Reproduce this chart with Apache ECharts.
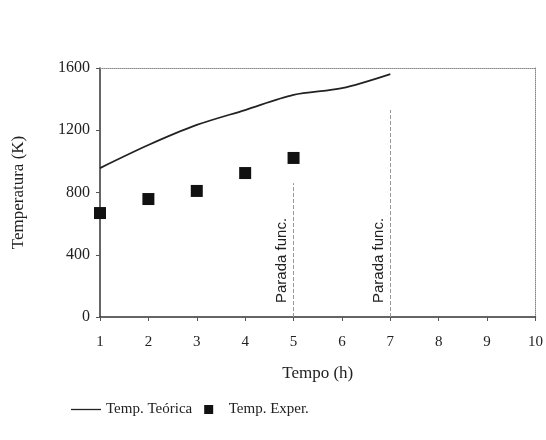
<!DOCTYPE html>
<html>
<head>
<meta charset="utf-8">
<script src="https://cdn.jsdelivr.net/npm/echarts@6/dist/echarts.min.js"></script>
<style>
  html, body { margin: 0; padding: 0; background: #fff; }
  #chart { width: 546px; height: 440px; }
</style>
</head>
<body>
<div id="chart"></div>
<script>
// dados
const hours = [1, 2, 3, 4, 5, 6, 7];
const tempTeorica = [957, 1105, 1234, 1330, 1427, 1470, 1561];
const expHours = [1, 2, 3, 4, 5];
const tempExper = [668, 758, 810, 925, 1022];
const paradas = [[5, 860], [7, 1330]];

const serif = '"Liberation Serif", "DejaVu Serif", serif';

let myChart = echarts.init(document.getElementById('chart'));
myChart.setOption({
    backgroundColor: '#fff',
    animation: false,
    grid: { left: 100, right: 10, top: 68, bottom: 123 },
    legend: {
        bottom: 18,
        left: 66,
        itemGap: 12,
        textStyle: { fontFamily: serif, fontSize: 15, color: '#222' },
        data: [
            { name: 'Temp. Teórica', icon: 'path://M0,0H30V1.3H0Z' },
            { name: 'Temp. Exper.', icon: 'path://M0,0H10V10H0Z' }
        ],
        itemWidth: 30,
        itemHeight: 9
    },
    xAxis: [{
        type: 'value',
        min: 1, max: 10, interval: 1,
        name: 'Tempo (h)',
        nameLocation: 'middle',
        nameGap: 48,
        nameTextStyle: { fontFamily: serif, fontSize: 17, color: '#222' },
        axisLine: { show: true, lineStyle: { color: '#333', width: 1.5 } },
        axisTick: { show: true, length: 4, lineStyle: { color: '#555' } },
        axisLabel: { fontFamily: serif, fontSize: 15, color: '#222', margin: 18 },
        splitLine: { show: false }
    }, {
        type: 'value',
        min: 1, max: 10, interval: 1,
        position: 'top',
        axisLine: { show: true, onZero: false, lineStyle: { color: '#888', type: 'dotted' } },
        axisTick: { show: false },
        axisLabel: { show: false },
        splitLine: { show: false }
    }],
    yAxis: [{
        type: 'value',
        min: 0, max: 1600, interval: 400,
        name: 'Temperatura (K)',
        nameLocation: 'middle',
        nameGap: 73,
        nameTextStyle: { fontFamily: serif, fontSize: 17, color: '#222' },
        axisLine: { show: true, lineStyle: { color: '#333', width: 1.5 } },
        axisTick: { show: true, length: 4, lineStyle: { color: '#555' } },
        axisLabel: { fontFamily: serif, fontSize: 16, color: '#222', margin: 10, formatter: v => String(v) },
        splitLine: { show: false }
    }, {
        type: 'value',
        min: 0, max: 1600, interval: 400,
        position: 'right',
        axisLine: { show: true, onZero: false, lineStyle: { color: '#888', type: 'dotted' } },
        axisTick: { show: false },
        axisLabel: { show: false },
        splitLine: { show: false }
    }],
    series: [
        {
            name: 'Temp. Teórica',
            type: 'line',
            data: hours.map((h, i) => [h, tempTeorica[i]]),
            showSymbol: false,
            smooth: 0.3,
            lineStyle: { color: '#222', width: 1.8 },
            itemStyle: { color: '#222' },
            markLine: {
                silent: true,
                symbol: 'none',
                lineStyle: { color: '#999', type: 'dashed', width: 1 },
                label: {
                    show: true,
                    formatter: 'Parada func.',
                    position: 'insideStartTop',
                    distance: [14, 4],
                    fontFamily: '"Liberation Sans", Arial, sans-serif',
                    fontSize: 15,
                    color: '#222'
                },
                data: paradas.map(p => [{ coord: [p[0], 0] }, { coord: [p[0], p[1]] }])
            }
        },
        {
            name: 'Temp. Exper.',
            type: 'scatter',
            data: expHours.map((h, i) => [h, tempExper[i]]),
            symbol: 'rect',
            symbolSize: 12,
            itemStyle: { color: '#111', opacity: 1 }
        }
    ]
});
</script>
</body>
</html>
